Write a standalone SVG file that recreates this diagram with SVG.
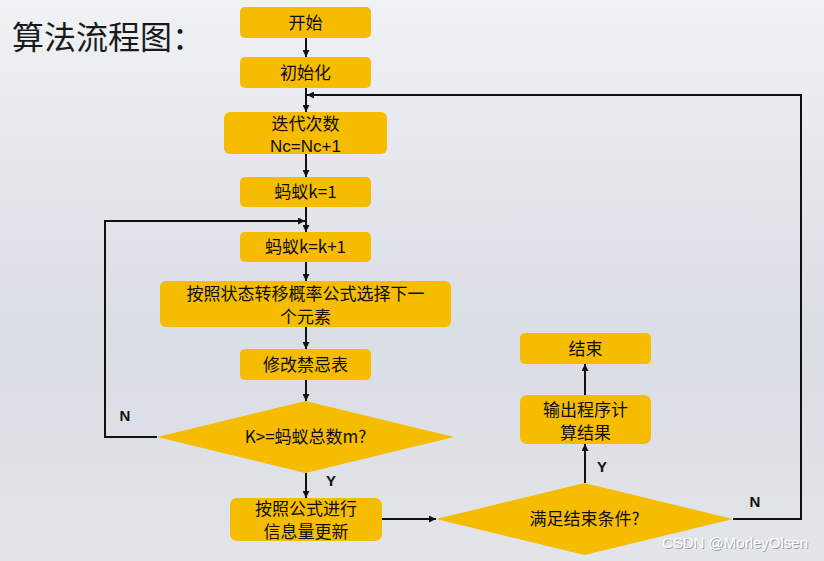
<svg xmlns="http://www.w3.org/2000/svg" width="824" height="561" viewBox="0 0 824 561">
<defs>
<linearGradient id="bg" x1="0" y1="0" x2="0" y2="1">
<stop offset="0" stop-color="#f0f2f5"/>
<stop offset="0.6" stop-color="#d9dde4"/>
<stop offset="1" stop-color="#e2e5e9"/>
</linearGradient>
<marker id="ah" viewBox="0 0 10 10" refX="10" refY="5" markerWidth="7" markerHeight="7" markerUnits="userSpaceOnUse" orient="auto">
<path d="M0,0 L10,5 L0,10 z" fill="#111"/>
</marker>
</defs>
<style>
.box{fill:#f6bc00;}
.t{font-family:"Noto Sans CJK SC","Liberation Sans",sans-serif;font-size:17px;fill:#0d0d0d;text-anchor:middle;font-weight:normal;}
.lat{font-family:"Liberation Sans",sans-serif;}
.lbl{font-family:"Liberation Sans",sans-serif;font-size:15px;fill:#111;text-anchor:middle;font-weight:bold;}
.c{fill:none;stroke:#111;stroke-width:2;}
</style>
<rect width="824" height="561" fill="url(#bg)"/>
<text x="12" y="49" font-family="Noto Sans CJK SC, sans-serif" font-size="32" fill="#1a1a1a">算法流程图：</text>

<g id="n-start"><rect class="box" x="240" y="7" width="131" height="31" rx="5"/><text class="t" x="305.5" y="28.5">开始</text></g>
<g id="n-init"><rect class="box" x="240" y="57" width="131" height="31" rx="5"/><text class="t" x="305.5" y="78.5">初始化</text></g>
<g id="n-iter"><rect class="box" x="224" y="112" width="163" height="42" rx="6"/><text class="t" x="305.5" y="130">迭代次数</text><text class="t lat" x="305.5" y="152">Nc=Nc+1</text></g>
<g id="n-k1"><rect class="box" x="240" y="177" width="131" height="30" rx="5"/><text class="t" x="305.5" y="198">蚂蚁k=1</text></g>
<g id="n-kk"><rect class="box" x="240" y="232" width="131" height="30" rx="5"/><text class="t" x="305.5" y="253">蚂蚁k=k+1</text></g>
<g id="n-select"><rect class="box" x="160" y="281" width="291" height="46" rx="6"/><text class="t" x="305.5" y="300">按照状态转移概率公式选择下一</text><text class="t" x="305.5" y="323">个元素</text></g>
<g id="n-tabu"><rect class="box" x="240" y="349" width="131" height="31" rx="5"/><text class="t" x="305.5" y="371">修改禁忌表</text></g>
<g id="n-d1"><polygon class="box" points="157,437 305.5,401 454,437 305.5,473"/><text class="t" x="305.5" y="443">K&gt;=蚂蚁总数m?</text></g>
<g id="n-update"><rect class="box" x="230" y="498" width="152" height="43" rx="7"/><text class="t" x="306" y="515">按照公式进行</text><text class="t" x="306" y="538">信息量更新</text></g>
<g id="n-d2"><polygon class="box" points="436,519 584.5,483 733,519 584.5,555"/><text class="t" x="584.5" y="525">满足结束条件?</text></g>
<g id="n-output"><rect class="box" x="520" y="395" width="131" height="49" rx="7"/><text class="t" x="585.5" y="416">输出程序计</text><text class="t" x="585.5" y="439">算结果</text></g>
<g id="n-end"><rect class="box" x="520" y="333" width="131" height="31" rx="5"/><text class="t" x="585.5" y="355">结束</text></g>

<g id="connectors">
<line class="c" x1="306" y1="38" x2="306" y2="57" marker-end="url(#ah)"/>
<line class="c" x1="306" y1="88" x2="306" y2="112" marker-end="url(#ah)"/>
<line class="c" x1="306" y1="154" x2="306" y2="177" marker-end="url(#ah)"/>
<line class="c" x1="306" y1="207" x2="306" y2="232" marker-end="url(#ah)"/>
<line class="c" x1="306" y1="262" x2="306" y2="281" marker-end="url(#ah)"/>
<line class="c" x1="306" y1="327" x2="306" y2="349" marker-end="url(#ah)"/>
<line class="c" x1="306" y1="380" x2="306" y2="401" marker-end="url(#ah)"/>
<line class="c" x1="306" y1="473" x2="306" y2="498" marker-end="url(#ah)"/>
<polyline class="c" points="157,437 105,437 105,221 305,221" marker-end="url(#ah)"/>
<line class="c" x1="382" y1="519" x2="436" y2="519" marker-end="url(#ah)"/>
<line class="c" x1="585" y1="483" x2="585" y2="444" marker-end="url(#ah)"/>
<line class="c" x1="585" y1="395" x2="585" y2="364" marker-end="url(#ah)"/>
<polyline class="c" points="733,519 801,519 801,95 307,95" marker-end="url(#ah)"/>
</g>
<text class="lbl" x="125" y="421">N</text>
<text class="lbl" x="331" y="486">Y</text>
<text class="lbl" x="602" y="472">Y</text>
<text class="lbl" x="755" y="507">N</text>
<g id="watermark" font-family="Liberation Sans, sans-serif" font-size="15" text-anchor="end">
<text x="809" y="549" fill="#9aa0a8">CSDN @MorleyOlsen</text>
<text x="808" y="548" fill="#ffffff">CSDN @MorleyOlsen</text>
</g>
</svg>
